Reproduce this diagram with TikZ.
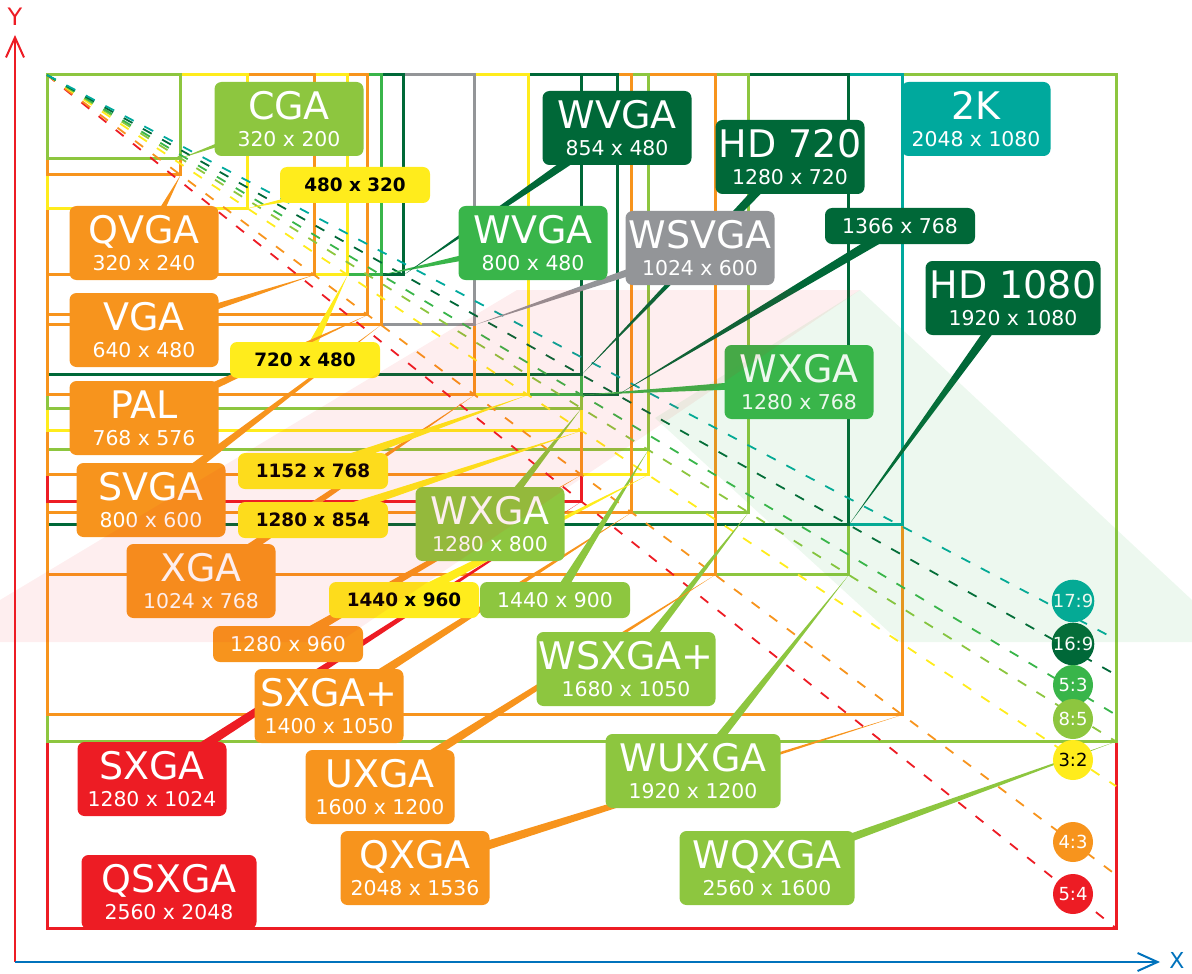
\documentclass[tikz,border=0pt]{standalone}
\usepackage{fontspec}
\setmainfont{DejaVu Sans}
\usetikzlibrary{calc, arrows.meta}
\definecolor{rred}{HTML}{ED1C24}
\definecolor{rorange}{HTML}{F7941D}
\definecolor{ryellow}{HTML}{FFEC1C}
\definecolor{rlime}{HTML}{8DC63F}
\definecolor{rgreen}{HTML}{39B54A}
\definecolor{rdark}{HTML}{006838}
\definecolor{rteal}{HTML}{00A99D}
\definecolor{rgray}{HTML}{939598}
\definecolor{xblue}{HTML}{0072BC}
\pgfdeclarelayer{rects}
\pgfdeclarelayer{links}
\pgfsetlayers{rects,links,main}
\newcommand{\bigtxt}[2]{{\fontsize{19}{19}\selectfont #1}\\#2}
\newcommand{\leadto}[3]{\fill[fill=#1] ($(#2)!2.6pt!90:(#3)$) -- (#3) -- ($(#2)!2.6pt!-90:(#3)$) -- cycle;}

\begin{document}
\begin{tikzpicture}[x=0.5pt, y=-0.5pt,
            resframe/.style={line width=1.5pt},
            ratioline/.style={line width=0.9pt, dash pattern=on 5pt off 6pt},
            axis/.style={line width=1pt, -{Straight Barb[length=10pt, width=9pt]}},
            restag/.style={rounded corners=3.5pt, text=white, minimum height=37pt, minimum width=74.5pt,
                inner xsep=1pt, inner ysep=0pt, align=center, font=\fontsize{10.2}{13.5}\selectfont},
            wide/.style={minimum width=87.5pt},
            tagsm/.style={rounded corners=3.5pt, text=white, minimum height=18pt, minimum width=75pt,
                inner xsep=1pt, inner ysep=0pt, font=\fontsize{10.2}{12}\selectfont},
            tagyel/.style={tagsm, fill=ryellow, text=black, font=\bfseries\fontsize{9.2}{11}\selectfont},
            ratiodot/.style={circle, minimum size=20pt, inner sep=0pt, text=white, font=\fontsize{9}{9}\selectfont}]
\useasboundingbox (0,0) rectangle (1192,973);

% frames of the resolutions, largest first
\begin{pgfonlayer}{rects}
\begin{scope}[shift={(47,75)}, x=0.2088pt, y=-0.2083pt]
    \foreach \w/\h/\c in {2560/2048/rred, 2560/1600/rlime, 2048/1536/rorange, 2048/1080/rteal,
            1920/1200/rlime, 1920/1080/rdark, 1680/1050/rlime, 1600/1200/rorange, 1440/960/ryellow,
            1440/900/rlime, 1400/1050/rorange, 1366/768/rdark, 1280/1024/rred, 1280/960/rorange,
            1280/854/ryellow, 1280/800/rlime, 1280/768/rgreen, 1280/720/rdark, 1152/768/ryellow,
            1024/768/rorange, 1024/600/rgray, 854/480/rdark, 800/600/rorange, 800/480/rgreen,
            768/576/rorange, 720/480/ryellow, 640/480/rorange, 480/320/ryellow, 320/240/rorange,
            320/200/rlime} {
        \draw[resframe, color=\c] (0,0) rectangle (\w,\h);
        \coordinate (r\w-\h) at (\w,\h);
    }
    % aspect ratio diagonals
    \coordinate (orig) at (0,0);
    \foreach \h/\c in {2048/rred, 1920/rorange, 1707/ryellow, 1600/rlime, 1536/rgreen, 1440/rdark, 1355/rteal} {
        \coordinate (end\h) at (2560,\h);
        \draw[ratioline, color=\c] (orig) -- (end\h);
    }
\end{scope}
\end{pgfonlayer}

% axes
\coordinate (o) at (15,962);
\coordinate (ytip) at (15,35);
\coordinate (xtip) at (1160,962);
\draw[axis, rred] (o) -- (ytip);
\draw[axis, xblue] (o) -- (xtip);
\node[text=rred, inner sep=0pt, font=\fontsize{12}{12}\selectfont] (ylab) at (15,17) {Y};
\node[text=xblue, inner sep=0pt, font=\fontsize{11}{11}\selectfont] (xlab) at (1177,960) {X};

% named labels
\node[restag, fill=rlime] (cga) at (289,119) {\bigtxt{CGA}{320 x 200}};
\node[restag, fill=rorange] (qvga) at (144,243) {\bigtxt{QVGA}{320 x 240}};
\node[restag, fill=rorange] (vga) at (144,330) {\bigtxt{VGA}{640 x 480}};
\node[restag, fill=rorange] (pal) at (144,418) {\bigtxt{PAL}{768 x 576}};
\node[restag, fill=rorange] (svga) at (151,500) {\bigtxt{SVGA}{800 x 600}};
\node[restag, fill=rorange] (xga) at (201,581) {\bigtxt{XGA}{1024 x 768}};
\node[restag, fill=rlime] (wxgab) at (490,524) {\bigtxt{WXGA}{1280 x 800}};
\node[restag, fill=rdark] (wvgab) at (617,128) {\bigtxt{WVGA}{854 x 480}};
\node[restag, fill=rgreen] (wvgaa) at (533,243) {\bigtxt{WVGA}{800 x 480}};
\node[restag, fill=rgray] (wsvga) at (700,248) {\bigtxt{WSVGA}{1024 x 600}};
\node[restag, fill=rdark] (hdsev) at (790,157) {\bigtxt{HD 720}{1280 x 720}};
\node[restag, fill=rteal] (twok) at (976,119) {\bigtxt{2K}{2048 x 1080}};
\node[restag, wide, fill=rdark] (hdten) at (1013,298) {\bigtxt{HD 1080}{1920 x 1080}};
\node[restag, fill=rgreen] (wxgaa) at (799,382) {\bigtxt{WXGA}{1280 x 768}};
\node[restag, wide, fill=rlime] (wsxgap) at (626,669) {\bigtxt{WSXGA+}{1680 x 1050}};
\node[restag, fill=rorange] (sxgap) at (329,706) {\bigtxt{SXGA+}{1400 x 1050}};
\node[restag, fill=rred] (sxga) at (152,779) {\bigtxt{SXGA}{1280 x 1024}};
\node[restag, fill=rorange] (uxga) at (380,787) {\bigtxt{UXGA}{1600 x 1200}};
\node[restag, wide, fill=rlime] (wuxga) at (693,771) {\bigtxt{WUXGA}{1920 x 1200}};
\node[restag, fill=rorange] (qxga) at (415,868) {\bigtxt{QXGA}{2048 x 1536}};
\node[restag, wide, fill=rlime] (wqxga) at (767,868) {\bigtxt{WQXGA}{2560 x 1600}};
\node[restag, wide, fill=rred] (qsxga) at (169,892) {\bigtxt{QSXGA}{2560 x 2048}};

% size-only labels
\node[tagyel] (l480) at (355,185) {480 x 320};
\node[tagyel] (l720) at (305,360) {720 x 480};
\node[tagyel] (l1152) at (313,471) {1152 x 768};
\node[tagyel] (l1280a) at (313,520) {1280 x 854};
\node[tagsm, fill=rorange] (l1280b) at (288,644) {1280 x 960};
\node[tagyel] (l1440b) at (404,600) {1440 x 960};
\node[tagsm, fill=rlime] (l1440a) at (555,600) {1440 x 900};
\node[tagsm, fill=rdark] (l1366) at (900,226) {1366 x 768};

% pointers to the frame corners
\begin{pgfonlayer}{links}
    \foreach \a/\b/\c in {cga/r320-200/rlime, qvga/r320-240/rorange, l480/r480-320/ryellow,
            vga/r640-480/rorange, l720/r720-480/ryellow, pal/r768-576/rorange, wvgaa/r800-480/rgreen,
            wvgab/r854-480/rdark, svga/r800-600/rorange, wsvga/r1024-600/rgray, xga/r1024-768/rorange,
            l1152/r1152-768/ryellow, hdsev/r1280-720/rdark, wxgaa/r1280-768/rgreen, wxgab/r1280-800/rlime,
            l1280a/r1280-854/ryellow, l1280b/r1280-960/rorange, sxga/r1280-1024/rred, l1366/r1366-768/rdark,
            sxgap/r1400-1050/rorange, l1440a/r1440-900/rlime, l1440b/r1440-960/ryellow,
            wsxgap/r1680-1050/rlime, uxga/r1600-1200/rorange, hdten/r1920-1080/rdark,
            wuxga/r1920-1200/rlime, qxga/r2048-1536/rorange, wqxga/r2560-1600/rlime} {
        \leadto{\c}{\a}{\b}
    }
\end{pgfonlayer}

% ratio markers
\foreach \y/\t/\c/\k in {601/17:9/rteal/white, 644/16:9/rdark/white, 685/5:3/rgreen/white,
        719/8:5/rlime/white, 760/3:2/ryellow/black, 842/4:3/rorange/white, 894/5:4/rred/white} {
    \node[ratiodot, fill=\c, text=\k] (ar\y) at (1073,\y) {\t};
}

% faint overlays
\fill[rred, opacity=0.075] (0,600) -- (517,290) -- (860,290) -- (339,642) -- (0,642) -- cycle;
\fill[rgreen, opacity=0.09] (860,290) -- (1192,600) -- (1192,642) -- (900,642) -- (655,418) -- cycle;
\end{tikzpicture}
\end{document}
